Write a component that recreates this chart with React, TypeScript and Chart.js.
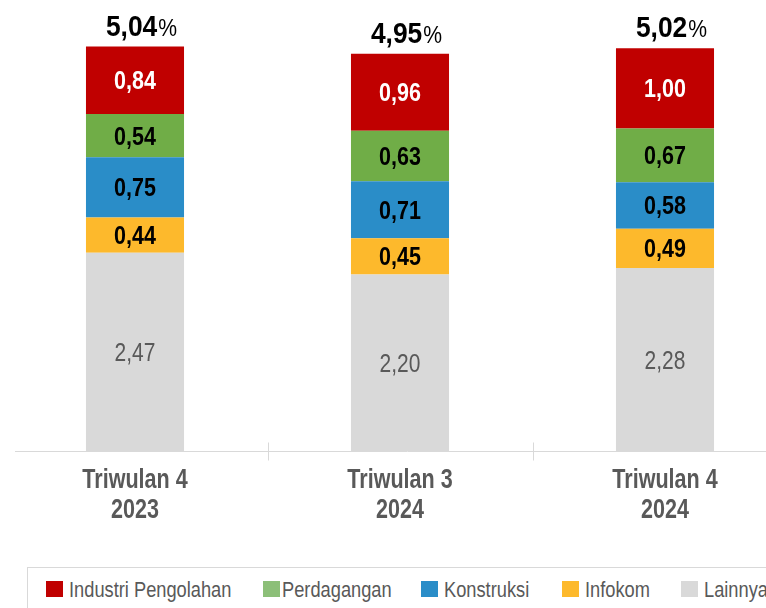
import React, { useEffect, useRef } from "react";
import { Chart, registerables } from "chart.js";

Chart.register(...registerables);

const categories: string[][] = [
  ["Triwulan 4", "2023"],
  ["Triwulan 3", "2024"],
  ["Triwulan 4", "2024"],
];

// stacked bottom -> top
const lainnya = [2.47, 2.2, 2.28];
const infokom = [0.44, 0.45, 0.49];
const konstruksi = [0.75, 0.71, 0.58];
const perdagangan = [0.54, 0.63, 0.67];
const industri = [0.84, 0.96, 1.0];

const seriesNames = ["Industri Pengolahan", "Perdagangan", "Konstruksi", "Infokom", "Lainnya"];
const seriesColors = ["#C00000", "#70AD47", "#2A8DC8", "#FDB92C", "#D9D9D9"];
const legendColors = ["#C00000", "#8CBF78", "#2A8DC8", "#FDB92C", "#D9D9D9"];
const legendX = [46, 263, 421, 562, 681];

const FONT = "'Liberation Sans', Arial, sans-serif";

const fmt = (v: number) => v.toFixed(2).replace(".", ",");

function drawText(
  ctx: CanvasRenderingContext2D,
  text: string,
  x: number,
  y: number,
  font: string,
  sx: number,
  align: "left" | "center"
) {
  ctx.save();
  ctx.font = font;
  ctx.textBaseline = "alphabetic";
  ctx.textAlign = align;
  ctx.translate(x, y);
  ctx.scale(sx, 1);
  ctx.fillText(text, 0, 0);
  ctx.restore();
}

const labelPlugin = {
  id: "segLabels",
  afterDatasetsDraw(chart: any) {
    const ctx: CanvasRenderingContext2D = chart.ctx;
    const n = chart.data.datasets.length;
    chart.data.datasets.forEach((ds: any, di: number) => {
      const meta = chart.getDatasetMeta(di);
      meta.data.forEach((bar: any, i: number) => {
        const v = ds.data[i];
        const cy = (bar.y + bar.base) / 2;
        let font = `700 25px ${FONT}`;
        let sx = 0.86;
        if (ds.label === "Lainnya") {
          font = `400 25px ${FONT}`;
          sx = 0.84;
          ctx.fillStyle = "#595959";
        } else if (ds.label === "Industri Pengolahan") {
          ctx.fillStyle = "#FFFFFF";
        } else {
          ctx.fillStyle = "#000000";
        }
        drawText(ctx, fmt(v), bar.x, cy + 9, font, sx, "center");
      });
    });
    // totals
    const topMeta = chart.getDatasetMeta(n - 1);
    topMeta.data.forEach((bar: any, i: number) => {
      let total = 0;
      chart.data.datasets.forEach((ds: any) => (total += ds.data[i]));
      const main = fmt(total);
      const f1 = `700 30px ${FONT}`;
      const f2 = `400 23px ${FONT}`;
      const s1 = 0.88;
      const s2 = 0.92;
      ctx.save();
      ctx.font = f1;
      const w1 = ctx.measureText(main).width * s1;
      ctx.font = f2;
      const w2 = ctx.measureText("%").width * s2;
      ctx.restore();
      const x0 = bar.x + 6 - (w1 + w2) / 2;
      const yb = bar.y - 11;
      ctx.fillStyle = "#000000";
      drawText(ctx, main, x0, yb, f1, s1, "left");
      drawText(ctx, "%", x0 + w1 + 1, yb, f2, s2, "left");
    });
  },
};

const axisPlugin = {
  id: "axisLine",
  afterDraw(chart: any) {
    const ctx: CanvasRenderingContext2D = chart.ctx;
    const xs = chart.scales.x;
    const y = Math.round(chart.chartArea.bottom) + 0.5;
    ctx.save();
    ctx.strokeStyle = "#D9D9D9";
    ctx.lineWidth = 1;
    ctx.beginPath();
    ctx.moveTo(15, y);
    ctx.lineTo(chart.width, y);
    for (let i = 0; i < categories.length - 1; i++) {
      const bx = Math.round((xs.getPixelForValue(i) + xs.getPixelForValue(i + 1)) / 2) + 0.5;
      ctx.moveTo(bx, y - 9);
      ctx.lineTo(bx, y + 9);
    }
    ctx.stroke();
    ctx.restore();
    // category labels
    ctx.fillStyle = "#595959";
    categories.forEach((lines, i) => {
      const cx = xs.getPixelForValue(i);
      lines.forEach((ln, k) => {
        drawText(ctx, ln, cx, y + 36 + k * 30.5, `700 28px ${FONT}`, 0.77, "center");
      });
    });
  },
};

export default function App() {
  const ref = useRef<HTMLCanvasElement | null>(null);
  useEffect(() => {
    if (!ref.current) return;
    const datasets = [
      { label: "Lainnya", data: lainnya, backgroundColor: seriesColors[4] },
      { label: "Infokom", data: infokom, backgroundColor: seriesColors[3] },
      { label: "Konstruksi", data: konstruksi, backgroundColor: seriesColors[2] },
      { label: "Perdagangan", data: perdagangan, backgroundColor: seriesColors[1] },
      { label: "Industri Pengolahan", data: industri, backgroundColor: seriesColors[0] },
    ];
    const chart = new Chart(ref.current, {
      type: "bar",
      data: { labels: categories as any, datasets },
      options: {
        responsive: false,
        animation: false,
        layout: { padding: { left: 2.5, right: 2.5, top: 0, bottom: 0 } },
        datasets: { bar: { categoryPercentage: 1, barPercentage: 0.37, borderWidth: 0 } },
        plugins: { legend: { display: false }, tooltip: { enabled: false } },
        scales: {
          x: {
            stacked: true,
            grid: { display: false },
            border: { display: false },
            ticks: { display: false },
            afterFit: (s: any) => {
              s.height = 560 - 451;
            },
          },
          y: {
            stacked: true,
            display: false,
            min: 0,
            max: 5.62,
          },
        },
      },
      plugins: [labelPlugin, axisPlugin],
    } as any);
    return () => chart.destroy();
  }, []);

  return (
    <div
      style={{
        position: "fixed",
        left: 0,
        top: 0,
        width: 766,
        height: 608,
        overflow: "hidden",
        background: "#fff",
      }}
    >
      <canvas ref={ref} width={800} height={560} style={{ position: "absolute", left: 0, top: 0 }} />
      <div
        style={{
          position: "absolute",
          left: 27,
          top: 567,
          width: 800,
          height: 80,
          border: "1px solid #D9D9D9",
          boxSizing: "border-box",
        }}
      />
      {seriesNames.map((name, i) => (
        <div key={name}>
          <span
            style={{
              position: "absolute",
              left: legendX[i],
              top: 581,
              width: 17,
              height: 16,
              background: legendColors[i],
            }}
          />
          <span
            style={{
              position: "absolute",
              left: legendX[i] + (i === 1 ? 19 : 23),
              top: 577,
              whiteSpace: "nowrap",
              fontFamily: FONT,
              fontSize: 22,
              lineHeight: "26px",
              color: "#595959",
              transform: "scaleX(0.83)",
              transformOrigin: "0 0",
            }}
          >
            {name}
          </span>
        </div>
      ))}
    </div>
  );
}
